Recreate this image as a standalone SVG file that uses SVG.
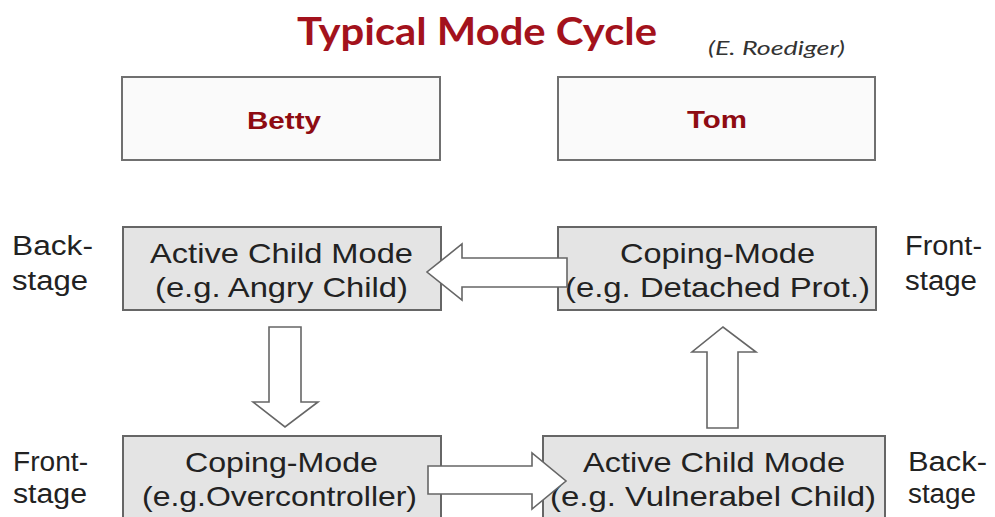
<svg xmlns="http://www.w3.org/2000/svg" width="995" height="517" viewBox="0 0 995 517">
<style>
  .bg { fill: #ffffff; }
  .title { font-family: Lato, "Liberation Sans", sans-serif; font-weight: bold; font-size: 38px; fill: #a3121c; }
  .author { font-family: Lato, "Liberation Sans", sans-serif; font-style: italic; font-size: 19px; fill: #333333; }
  .person { fill: #fafafa; stroke: #707070; stroke-width: 2; }
  .pname { font-family: "Liberation Sans", Arial, sans-serif; font-weight: bold; font-size: 24px; fill: #8e0b12; }
  .mode { fill: #e4e4e4; stroke: #666666; stroke-width: 2; }
  .mtext { font-family: "Liberation Sans", Arial, sans-serif; font-size: 28px; fill: #222222; }
  .side { font-family: "Liberation Sans", Arial, sans-serif; font-size: 27px; fill: #222222; }
  .arrow { fill: #ffffff; stroke: #666666; stroke-width: 1.6; stroke-linejoin: miter; }
</style>
<rect class="bg" x="0" y="0" width="995" height="517"/>

<g id="title">
  <text class="title" x="297" y="45" textLength="360" lengthAdjust="spacingAndGlyphs">Typical Mode Cycle</text>
  <text class="author" x="708" y="55" textLength="137" lengthAdjust="spacingAndGlyphs">(E. Roediger)</text>
</g>

<g id="betty">
  <rect class="person" x="122" y="77" width="318" height="83"/>
  <text class="pname" x="247" y="129" textLength="74" lengthAdjust="spacingAndGlyphs">Betty</text>
</g>
<g id="tom">
  <rect class="person" x="558" y="77" width="317" height="83"/>
  <text class="pname" x="687" y="128" textLength="60" lengthAdjust="spacingAndGlyphs">Tom</text>
</g>

<g id="labels">
  <text class="side" x="12" y="255" textLength="81" lengthAdjust="spacingAndGlyphs">Back-</text>
  <text class="side" x="12" y="290" textLength="76" lengthAdjust="spacingAndGlyphs">stage</text>
  <text class="side" x="905" y="255" textLength="77" lengthAdjust="spacingAndGlyphs">Front-</text>
  <text class="side" x="905" y="290" textLength="72" lengthAdjust="spacingAndGlyphs">stage</text>
  <text class="side" x="13" y="471" textLength="75" lengthAdjust="spacingAndGlyphs">Front-</text>
  <text class="side" x="13" y="503" textLength="74" lengthAdjust="spacingAndGlyphs">stage</text>
  <text class="side" x="908" y="471" textLength="79" lengthAdjust="spacingAndGlyphs">Back-</text>
  <text class="side" x="908" y="503" textLength="68" lengthAdjust="spacingAndGlyphs">stage</text>
</g>

<g id="betty-active">
  <rect class="mode" x="123" y="227" width="318" height="83"/>
  <text class="mtext" x="150" y="263" textLength="263" lengthAdjust="spacingAndGlyphs">Active Child Mode</text>
  <text class="mtext" x="155" y="297" textLength="253" lengthAdjust="spacingAndGlyphs">(e.g. Angry Child)</text>
</g>
<g id="tom-coping">
  <rect class="mode" x="558" y="227" width="318" height="83"/>
  <text class="mtext" x="620" y="263" textLength="195" lengthAdjust="spacingAndGlyphs">Coping-Mode</text>
  <text class="mtext" x="565" y="297" textLength="305" lengthAdjust="spacingAndGlyphs">(e.g. Detached Prot.)</text>
</g>
<g id="betty-coping">
  <rect class="mode" x="123" y="436" width="318" height="92"/>
  <text class="mtext" x="185" y="472" textLength="193" lengthAdjust="spacingAndGlyphs">Coping-Mode</text>
  <text class="mtext" x="142" y="506" textLength="275" lengthAdjust="spacingAndGlyphs">(e.g.Overcontroller)</text>
</g>
<g id="tom-active">
  <rect class="mode" x="543" y="436" width="342" height="92"/>
  <text class="mtext" x="583" y="472" textLength="262" lengthAdjust="spacingAndGlyphs">Active Child Mode</text>
  <text class="mtext" x="550" y="506" textLength="326" lengthAdjust="spacingAndGlyphs">(e.g. Vulnerabel Child)</text>
</g>

<g id="connectors">
  <polygon class="arrow" points="567,258 462,258 462,244 427,272 462,300 462,287 567,287"/>
  <polygon class="arrow" points="269,327 301,327 301,402 318,402 285,427 253,402 269,402"/>
  <polygon class="arrow" points="428,466 532,466 532,453 566,481 532,509 532,494 428,494"/>
  <polygon class="arrow" points="707,428 707,352 692,352 723,327 756,352 738,352 738,428"/>
</g>
</svg>
